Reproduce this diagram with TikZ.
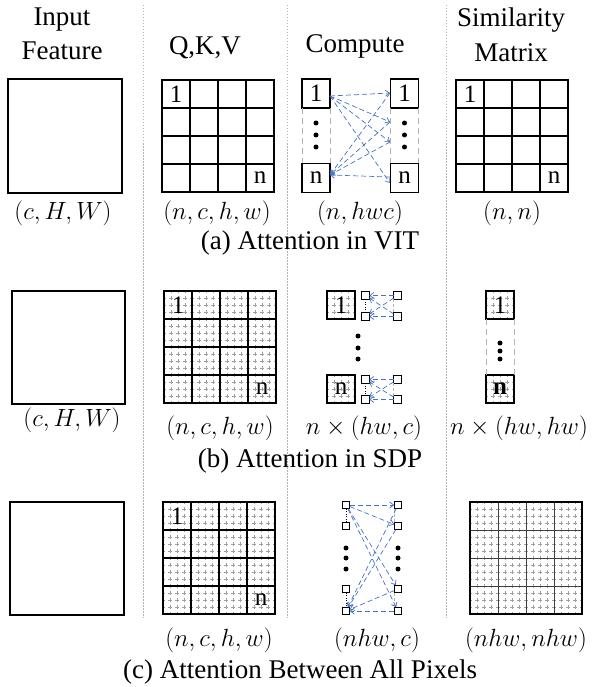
\documentclass[tikz,border=0pt]{standalone}
\usepackage{fontspec}
\setmainfont{Liberation Serif}
\usetikzlibrary{arrows.meta}
\definecolor{myblue}{RGB}{68,114,196}
\tikzset{
 box/.style={draw=black, line width=1.4pt},
 gridl/.style={draw=black, line width=1.1pt},
 fine/.style={draw=gray!75, line width=0.7pt, dash pattern=on 4pt off 3pt, dash phase=2pt},
 sep/.style={draw=gray!60, line width=0.6pt, dash pattern=on 1.5pt off 1.5pt},
 colline/.style={draw=gray!60, line width=0.9pt, dash pattern=on 6pt off 4pt},
 link/.style={draw=myblue, line width=0.7pt, dash pattern=on 5pt off 3pt, -{Straight Barb[length=4pt,width=6pt]}},
 lab/.style={font=\fontsize{27}{31}\selectfont, inner sep=0pt},
 mth/.style={font=\fontsize{26}{30}\selectfont, inner sep=0pt},
 num/.style={font=\fontsize{25}{29}\selectfont, inner sep=0pt},
 cellbox/.style={draw=black, line width=1.4pt, minimum width=28pt, minimum height=28pt, inner sep=0pt, outer sep=0pt, font=\fontsize{25}{29}\selectfont},
 sq/.style={draw=black, line width=1.3pt, minimum size=7.5pt, inner sep=0pt, outer sep=0pt},
 dot/.style={fill=black, circle, minimum size=5pt, inner sep=0pt},
}
% fine texture: x0, y0, size, subdivisions
\newcommand{\texture}[4]{%
 \foreach \k in {1,...,\numexpr#4-1\relax}{%
   \pgfmathtruncatemacro{\mm}{mod(\k,4)}%
   \ifnum\mm=0\else
   \draw[fine] ({#1+\k*#3/#4},#2) -- ({#1+\k*#3/#4},{#2+#3});
   \draw[fine] (#1,{#2+\k*#3/#4}) -- ({#1+#3},{#2+\k*#3/#4});
   \fi}}
% 4x4 grid: x0, y0, size
\newcommand{\bigGrid}[3]{%
 \foreach \k in {1,2,3}{%
   \draw[gridl] ({#1+\k*#3/4},#2) -- ({#1+\k*#3/4},{#2+#3});
   \draw[gridl] (#1,{#2+\k*#3/4}) -- ({#1+#3},{#2+\k*#3/4});}
 \draw[box] (#1,#2) rectangle ({#1+#3},{#2+#3});}
\begin{document}
\begin{tikzpicture}[x=1pt,y=-1pt]
\useasboundingbox[fill=white] (0,0) rectangle (605,687);
% separators
\draw[sep] (143,5) -- (143,618);
\draw[sep] (287,5) -- (287,618);
\draw[sep] (446,5) -- (446,618);
% headers
\node[lab] (hin1) at (62,20) {Input};
\node[lab] (hin2) at (62,51) {Feature};
\node[lab] (hqkv) at (205,48) {Q,K,V};
\node[lab] (hcomp) at (355,46) {Compute};
\node[lab] (hsim1) at (511,20) {Similarity};
\node[lab] (hsim2) at (511,53) {Matrix};

% ================= row a =================
\draw[box] (8,79) rectangle (122,193);
\bigGrid{162}{80}{112}
\node[num] (a1) at (176,94) {1};
\node[num] (an) at (260,178) {n};
\bigGrid{456}{80}{112}
\node[num] (s1) at (470,94) {1};
\node[num] (sn) at (554,178) {n};
% compute
\node[cellbox, minimum height=29pt] (aL1) at (316,93.5) {1};
\node[cellbox, minimum height=29pt] (aLn) at (316,178) {n};
\node[cellbox, minimum height=29pt] (aR1) at (404.5,93.5) {1};
\node[cellbox, minimum height=29pt] (aRn) at (404.5,178) {n};
\draw[colline] (aL1.south west) -- (aLn.north west);
\draw[colline] (aL1.south east) -- (aLn.north east);
\draw[colline] (aR1.south west) -- (aRn.north west);
\draw[colline] (aR1.south east) -- (aRn.north east);
\foreach \yy in {123,135,147}{\node[dot] at (316,\yy) {}; \node[dot] at (404.5,\yy) {};}
\coordinate (aLa) at (330,96);
\coordinate (aLb) at (330,175);
\coordinate (aT1) at (390,93);
\coordinate (aT2) at (390,122);
\coordinate (aT3) at (390,142);
\coordinate (aT4) at (390,183);
\coordinate (aT5) at (390,177);
\draw[link] (aLa) -- (aT1);
\draw[link] (aLa) -- (aT2);
\draw[link] (aLa) -- (aT3);
\draw[link] (aLa) -- (aT4);
\draw[link] (aT1) -- (aLb);
\draw[link] (aT2) -- (aLb);
\draw[link] (aT3) -- (aLb);
\draw[link] (aT5) -- (aLb);
% labels
\node[mth] (ta1) at (63,213) {$(c,H,W)$};
\node[mth] (ta2) at (217,213) {$(n,c,h,w)$};
\node[mth] (ta3) at (360,213) {$(n,hwc)$};
\node[mth] (ta4) at (512,213) {$(n,n)$};
\node[lab] (capa) at (310,243) {(a) Attention in VIT};

% ================= row b =================
\draw[box] (12,291) rectangle (125,404);
\texture{164}{291}{112}{16}
\bigGrid{164}{291}{112}
\node[num] (b1) at (178,305) {1};
\node[num] (bn) at (262,389) {n};
% compute
\texture{327}{291}{28}{4}
\node[cellbox] (bL1) at (341,305) {1};
\texture{327}{375}{28}{4}
\node[cellbox] (bLn) at (341,389) {n};
\foreach \yy in {336,348,359}{\node[dot] at (358,\yy) {};}
\node[sq] (bTL) at (365.5,295.5) {};
\node[sq] (bBL) at (365.5,316.5) {};
\node[sq] (bTR) at (397.5,295.5) {};
\node[sq] (bBR) at (397.5,316.5) {};
\draw[black, line width=0.8pt, dash pattern=on 1pt off 1.5pt] (bTL.south) -- (bBL.north);
\draw[colline, line width=0.6pt, dash pattern=on 3pt off 2pt] (bTR.south west) -- (bBR.north west);
\draw[link] (bTR) -- (bTL);
\draw[link] (bBR) -- (bBL);
\draw[link] (bTR) -- (bBL);
\draw[link] (bBR) -- (bTL);
\node[sq] (bTL2) at (365.5,379.5) {};
\node[sq] (bBL2) at (365.5,399.5) {};
\node[sq] (bTR2) at (397.5,379.5) {};
\node[sq] (bBR2) at (397.5,399.5) {};
\draw[black, line width=0.8pt, dash pattern=on 1pt off 1.5pt] (bTL2.south) -- (bBL2.north);
\draw[colline, line width=0.6pt, dash pattern=on 3pt off 2pt] (bTR2.south west) -- (bBR2.north west);
\draw[link] (bTR2) -- (bTL2);
\draw[link] (bBR2) -- (bBL2);
\draw[link] (bTR2) -- (bBL2);
\draw[link] (bBR2) -- (bTL2);
% similarity
\texture{486}{291}{28}{4}
\node[cellbox] (bS1) at (500,305) {1};
\texture{486}{375}{28}{4}
\node[cellbox, line width=2pt, font=\fontsize{25}{29}\selectfont\bfseries] (bSn) at (500,389) {n};
\draw[colline] (bS1.south west) -- (bSn.north west);
\draw[colline] (bS1.south east) -- (bSn.north east);
\foreach \yy in {343,351,359}{\node[dot] at (500,\yy) {};}
% labels
\node[mth] (tb1) at (72,420) {$(c,H,W)$};
\node[mth] (tb2) at (220,428) {$(n,c,h,w)$};
\node[mth] (tb3) at (364,428) {$n\times(hw,c)$};
\node[mth] (tb4) at (519,428) {$n\times(hw,hw)$};
\node[lab] (capb) at (310,461) {(b) Attention in SDP};

% ================= row c =================
\draw[box] (10,502) rectangle (124,615);
\texture{163}{502}{112}{16}
\bigGrid{163}{502}{112}
\node[num] (c1) at (177,516) {1};
\node[num] (cn) at (261,600) {n};
\texture{470}{502}{112}{16}
\draw[gridl, line width=0.8pt, draw=black!75] (498,502) -- (498,614) (526,502) -- (526,614) (554,502) -- (554,614)
  (470,530) -- (582,530) (470,558) -- (582,558) (470,586) -- (582,586);
\draw[box] (470,502) rectangle (582,614);
% compute
\node[sq] (cL1) at (346,505) {};
\node[sq] (cL2) at (346,526) {};
\node[sq] (cL3) at (346,589) {};
\node[sq] (cL4) at (346,611) {};
\node[sq] (cR1) at (398,505) {};
\node[sq] (cR2) at (398,526) {};
\node[sq] (cR3) at (398,589) {};
\node[sq] (cR4) at (398,611) {};
\draw[black, line width=0.8pt, dash pattern=on 1pt off 1.5pt] (cL1.south) -- (cL2.north);
\draw[black, line width=0.8pt, dash pattern=on 1pt off 1.5pt] (cL3.south) -- (cL4.north);
\draw[colline, line width=0.6pt, dash pattern=on 3pt off 2pt] (cR1.south west) -- (cR2.north west);
\draw[colline, line width=0.6pt, dash pattern=on 3pt off 2pt] (cR3.south west) -- (cR4.north west);
\foreach \yy in {548,558,569}{\node[dot] at (346,\yy) {}; \node[dot] at (398,\yy) {};}
\draw[link] (cL1) -- (cR1);
\draw[link] (cL1) -- (cR2);
\draw[link] (cL1) -- (cR3);
\draw[link] (cL1) -- (cR4);
\draw[link] (cR1) -- (cL4);
\draw[link] (cR2) -- (cL4);
\draw[link] (cR3) -- (cL4);
\draw[link] (cR4) -- (cL4);
% labels
\node[mth] (tc2) at (219,640) {$(n,c,h,w)$};
\node[mth] (tc3) at (377,640) {$(nhw,c)$};
\node[mth] (tc4) at (526,640) {$(nhw,nhw)$};
\node[lab] (capc) at (300,672) {(c) Attention Between All Pixels};
\end{tikzpicture}
\end{document}
